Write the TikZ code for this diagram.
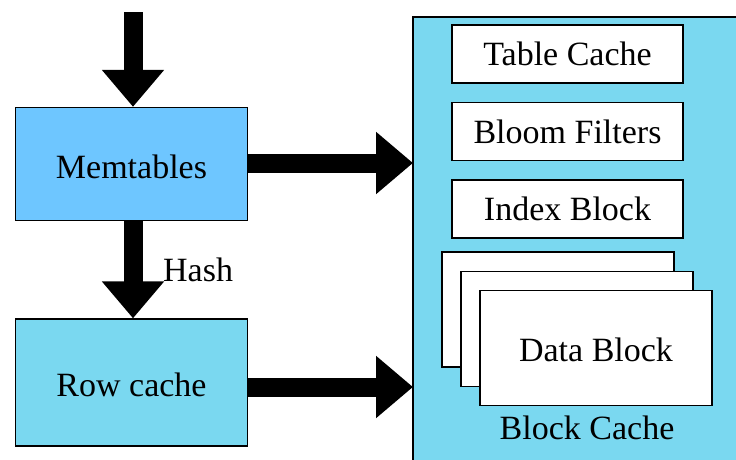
\documentclass[tikz,border=0pt]{standalone}
\usepackage{fontspec}
\setmainfont{Liberation Serif}
\newfontfamily\timesface{Liberation Serif}
\usetikzlibrary{arrows.meta}
\definecolor{memblue}{RGB}{110,198,255}
\definecolor{cacheblue}{RGB}{122,216,240}
\tikzset{
  box/.style={draw=black, line width=1.3pt, minimum width=232pt, inner sep=0pt, text height=28pt, text depth=0pt},
  slot/.style={draw=black, fill=white, line width=1.3pt, minimum width=231pt, minimum height=58pt, inner sep=0pt},
  page/.style={draw=black, fill=white, line width=1.3pt, minimum width=232pt, minimum height=115pt, inner sep=0pt},
  fat/.style={line width=19pt, -{Triangle[length=37pt,width=60pt]}},
  lbl/.style={font=\timesface\fontsize{34}{38}\selectfont}
}
\begin{document}
\begin{tikzpicture}[x=1pt,y=-1pt,lbl]
\useasboundingbox (0,0) rectangle (736,459);
% outer block-cache panel, running off the right and bottom edges
\fill[cacheblue] (413,17) rectangle (760,480);
\draw[line width=1.3pt] (760,17) -- (413,17) -- (413,480);
\coordinate (bcw) at (413,17);

% left column
\node[box, fill=memblue, minimum height=113pt] (mem) at (131.5,164) {Memtables};
\node[box, fill=cacheblue, minimum height=127pt] (rc) at (131.5,382.5) {Row cache};

% contents of the block cache
\node[slot] (tc) at (567.5,54) {Table Cache};
\node[slot] (bf) at (567.5,131.5) {Bloom Filters};
\node[slot] (ib) at (567.5,209) {Index Block};
\node[page] (d1) at (558,309.5) {};
\node[page] (d2) at (577,329) {};
\node[page, text height=26pt, text depth=0pt] (d3) at (596,348) {Data Block};
\node (bc) at (587,428) {Block Cache};

% arrows
\coordinate (in) at (133,12);
\coordinate (memout) at (248,163);
\coordinate (rcout) at (248,387);
\draw[fat] (in) -- (in |- mem.north);
\draw[fat] (mem.south -| in) -- (rc.north -| in);
\draw[fat] (memout) -- (memout -| bcw);
\draw[fat] (rcout) -- (rcout -| bcw);
\node[anchor=base west, inner sep=0pt] (hash) at (163,281) {Hash};
\end{tikzpicture}
\end{document}
